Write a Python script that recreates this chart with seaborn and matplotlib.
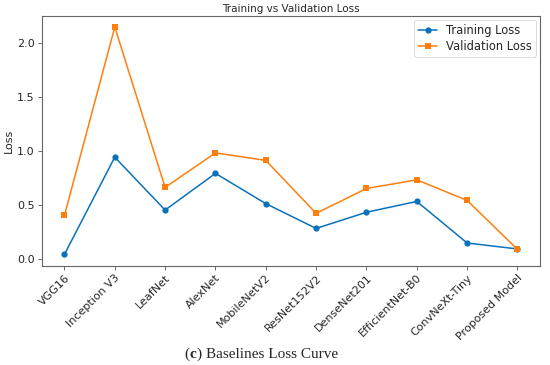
import matplotlib
matplotlib.use("Agg")
import matplotlib.pyplot as plt
import seaborn as sns
import pandas as pd

models = ["VGG16", "Inception V3", "LeafNet", "AlexNet", "MobileNetV2",
          "ResNet152V2", "DenseNet201", "EfficientNet-B0", "ConvNeXt-Tiny",
          "Proposed Model"]
train_loss = [0.04, 0.94, 0.45, 0.79, 0.51, 0.28, 0.43, 0.53, 0.145, 0.09]
val_loss = [0.40, 2.145, 0.66, 0.98, 0.91, 0.42, 0.65, 0.73, 0.54, 0.086]

sns.set_style("ticks")
plt.rcParams['font.family'] = ['DejaVu Sans']

df = pd.DataFrame({
    "Model": models * 2,
    "Loss": train_loss + val_loss,
    "Series": ["Training Loss"] * len(models) + ["Validation Loss"] * len(models),
})

fig = plt.figure(figsize=(5.5, 3.65), dpi=100)
ax = fig.add_axes([0.076, 0.272, 0.906, 0.685])

colors = {"Training Loss": "#0a72ba", "Validation Loss": "#ff7f0e"}
markers = {"Training Loss": "o", "Validation Loss": "s"}
for name in ["Training Loss", "Validation Loss"]:
    sub = df[df["Series"] == name]
    sns.lineplot(data=sub, x="Model", y="Loss", ax=ax, color=colors[name],
                 marker=markers[name], markersize=4.5, linewidth=1.1,
                 markeredgewidth=0, label=name, sort=False)

ax.set_title("Training vs Validation Loss", fontsize=7.5, pad=3)
ax.set_ylabel("Loss", fontsize=8, labelpad=2)
ax.set_xlabel("")
ax.set_yticks([0.0, 0.5, 1.0, 1.5, 2.0])
ax.tick_params(axis="both", labelsize=8, length=3, width=0.6, color="#555555", pad=2)
ax.set_xticks(range(len(models)))
ax.set_xticklabels(models, rotation=45, ha="right", rotation_mode="anchor")
for s in ax.spines.values():
    s.set_visible(True)
    s.set_color("#666666")
    s.set_linewidth(0.8)

leg = ax.legend(loc="upper right", fontsize=8.3, frameon=True, borderpad=0.35,
                handlelength=1.6, labelspacing=0.25, handletextpad=0.8,
                borderaxespad=0.35)
leg.get_frame().set_edgecolor("#cccccc")
leg.get_frame().set_linewidth(0.6)

t1 = fig.text(0.336, 0.02, "(", fontsize=11, family="Liberation Serif", ha="left", va="baseline")
t2 = fig.text(0, 0, "c", fontsize=11, family="Liberation Serif", weight="bold",
              ha="left", va="baseline")
fig.canvas.draw()
r = fig.canvas.get_renderer()
bb1 = t1.get_window_extent(r)
base_y = fig.transFigure.transform((0, 0.02))[1]
t2.set_transform(matplotlib.transforms.IdentityTransform())
t2.set_position((bb1.x1, base_y))
fig.canvas.draw()
bb2 = t2.get_window_extent(r)
t3 = fig.text(0, 0, ") Baselines Loss Curve", fontsize=11, family="Liberation Serif",
              ha="left", va="baseline", transform=matplotlib.transforms.IdentityTransform())
t3.set_position((bb2.x1, base_y))

fig.savefig("out.png", dpi=100)
